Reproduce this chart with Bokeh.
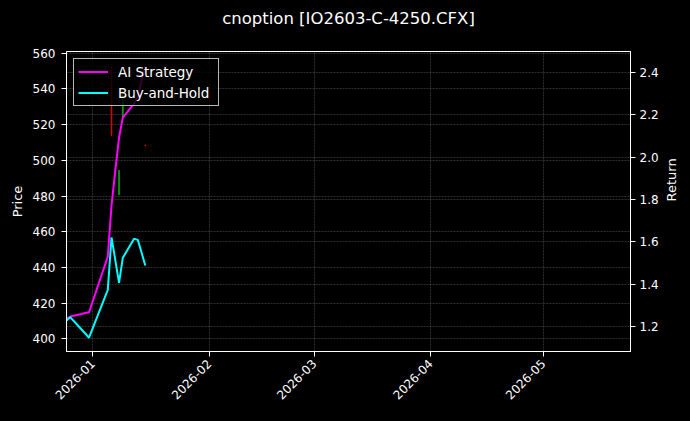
import math
import pandas as pd
from bokeh.plotting import figure
from bokeh.models import (Range1d, LinearAxis, SingleIntervalTicker, PrintfTickFormatter,
                          MonthsTicker, DatetimeTickFormatter, Grid, ColumnDataSource, FixedTicker)
from bokeh.embed import file_html
from bokeh.resources import INLINE

# ---------------- data ----------------
TITLE = "cnoption [IO2603-C-4250.CFX]"
dates = ["2025-12-25", "2025-12-26", "2025-12-29", "2025-12-30", "2025-12-31",
         "2026-01-05", "2026-01-06", "2026-01-07", "2026-01-08", "2026-01-09",
         "2026-01-12", "2026-01-13", "2026-01-14", "2026-01-15"]
ai_strategy = [1.238, 1.247, 1.259, 1.264, 1.267,
               1.530, 1.771, 1.936, 2.092, 2.186,
               2.252, 2.285, 2.360, 2.426]
buy_hold = [1.228, 1.244, 1.186, 1.167, 1.147,
            1.373, 1.621, 1.514, 1.406, 1.524,
            1.614, 1.609, 1.549, 1.488]

candle_dates = ["2026-01-06", "2026-01-08", "2026-01-09", "2026-01-15"]
c_open = [550.0, 480.8, 524.5, 508.6]
c_high = [553.0, 494.6, 540.0, 508.8]
c_low = [513.5, 480.5, 523.7, 507.9]
c_close = [514.0, 494.3, 538.0, 508.0]

x_start, x_end = "2025-12-25 00:00", "2026-05-24 07:00"
price_lo, price_hi = 392.9, 560.95
ret_lo, ret_hi = 1.082, 2.498

# ---------------- figure ----------------
FONT = "DejaVu Sans"
WHITE = "#ffffff"

p = figure(width=690, height=421, x_axis_type="datetime", output_backend="svg",
           toolbar_location=None,
           x_range=Range1d(pd.Timestamp(x_start), pd.Timestamp(x_end)),
           y_range=Range1d(price_lo, price_hi),
           min_border_left=66, min_border_right=60, min_border_top=51, min_border_bottom=70)
p.background_fill_color = "#000000"
p.border_fill_color = "#000000"
p.outline_line_color = WHITE
p.outline_line_width = 1
p.outline_line_alpha = 1.0

# title: label of a tickless axis above the frame
tax = LinearAxis(ticker=FixedTicker(ticks=[]), axis_label=TITLE)
tax.axis_line_color = None
tax.major_tick_line_color = None
tax.minor_tick_line_color = None
tax.major_tick_out = 0
tax.major_tick_in = 0
tax.major_label_standoff = 0
tax.axis_label_standoff = 24
tax.axis_label_text_color = WHITE
tax.axis_label_text_font = FONT
tax.axis_label_text_font_size = "16.5px"
tax.axis_label_text_font_style = "normal"
p.add_layout(tax, "above")

p.extra_y_ranges = {"ret": Range1d(ret_lo, ret_hi)}

# candles
cds = ColumnDataSource(dict(
    x=pd.to_datetime(candle_dates), o=c_open, h=c_high, l=c_low, c=c_close,
    top=[max(a, b) for a, b in zip(c_open, c_close)],
    bot=[min(a, b) for a, b in zip(c_open, c_close)],
    col=["#e00000" if cl < op else "#11a011" for op, cl in zip(c_open, c_close)],
))
p.segment(x0="x", y0="l", x1="x", y1="h", source=cds, line_color="col", line_width=1)
p.vbar(x="x", top="top", bottom="bot", width=0.3 * 86400000, source=cds,
       fill_color="col", line_color="col", line_width=0.3)

# lines
ls = ColumnDataSource(dict(x=pd.to_datetime(dates), ai=ai_strategy, bh=buy_hold))
p.line("x", "ai", source=ls, y_range_name="ret", line_color="#ff00ff", line_width=2,
       legend_label="AI Strategy")
p.line("x", "bh", source=ls, y_range_name="ret", line_color="#00ffff", line_width=2,
       legend_label="Buy-and-Hold")

# axes
def style_axis(ax):
    ax.axis_line_color = WHITE
    ax.major_tick_line_color = WHITE
    ax.major_tick_out = 5
    ax.major_tick_in = 0
    ax.minor_tick_line_color = None
    ax.major_label_text_color = WHITE
    ax.major_label_text_font = FONT
    ax.major_label_text_font_size = "12px"
    ax.axis_label_text_color = WHITE
    ax.axis_label_text_font = FONT
    ax.axis_label_text_font_size = "13px"
    ax.axis_label_text_font_style = "normal"

xa = p.below[0]
xa.ticker = MonthsTicker(months=list(range(12)))
xa.formatter = DatetimeTickFormatter(months="%Y-%m", days="%Y-%m", years="%Y-%m")
xa.major_label_orientation = math.pi / 4
style_axis(xa)

ya = p.left[0]
ya.ticker = SingleIntervalTicker(interval=20, num_minor_ticks=0)
ya.axis_label = "Price"
ya.major_label_standoff = 6
ya.axis_label_standoff = 5
style_axis(ya)

ra = LinearAxis(y_range_name="ret", axis_label="Return",
                ticker=SingleIntervalTicker(interval=0.2, num_minor_ticks=0),
                formatter=PrintfTickFormatter(format="%.1f"))
ra.major_label_standoff = 4
ra.axis_label_standoff = 10
ra.axis_label_orientation = math.pi / 2
style_axis(ra)
p.add_layout(ra, "right")

# grids
for g in p.grid:
    g.grid_line_color = WHITE
    g.grid_line_alpha = 0.3
    g.grid_line_width = 0.6
    g.grid_line_dash = "2 1"
g2 = Grid(dimension=1, ticker=ra.ticker, y_range_name="ret",
          grid_line_color=WHITE, grid_line_alpha=0.3, grid_line_width=0.6,
          grid_line_dash="2 1")
p.add_layout(g2)

# legend
lg = p.legend[0]
lg.location = "top_left"
lg.margin = 7
lg.padding = 4
lg.spacing = 4
lg.glyph_width = 30
lg.glyph_height = 17
lg.label_height = 17
lg.label_width = 96
lg.label_standoff = 10
lg.label_text_font = FONT
lg.label_text_font_size = "13.5px"
lg.label_text_color = WHITE
lg.background_fill_color = "#000000"
lg.background_fill_alpha = 0.8
lg.border_line_color = "#cccccc"
lg.border_line_alpha = 0.9
lg.border_line_width = 1

html = file_html(p, INLINE)
html = html.replace("</head>", "<style>html,body{background:#000000;}</style></head>", 1)
open("out.html", "w").write(html)
